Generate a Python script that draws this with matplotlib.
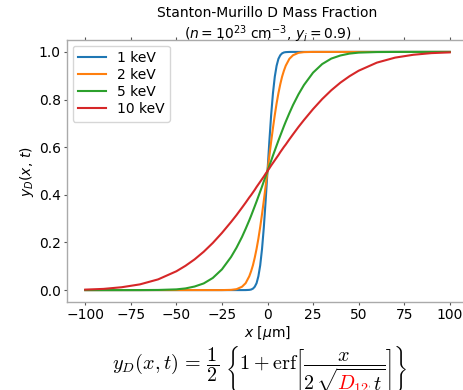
import matplotlib
matplotlib.use("Agg")
import matplotlib.pyplot as plt
import numpy as np
from matplotlib.mathtext import MathTextParser
from matplotlib.font_manager import FontProperties
from matplotlib.transforms import offset_copy

# x positions [um] shared by all curves
x_um = [-100, -90, -80, -70, -60, -50, -45, -40, -35, -30, -25, -20, -17, -14, -12,
        -10, -9, -8, -7, -6, -5, -4, -3, -2, -1, 0,
        1, 2, 3, 4, 5, 6, 7, 8, 9, 10, 12, 14, 17, 20, 25,
        30, 35, 40, 45, 50, 60, 70, 80, 90, 100]

# D mass fraction
y_1kev = [0, 0, 0, 0, 0, 0, 0, 0, 0, 0, 0, 0, 0, 0, 0.0001,
          0.0009, 0.0023, 0.006, 0.014, 0.029, 0.058, 0.104, 0.173, 0.265, 0.377, 0.5,
          0.623, 0.735, 0.827, 0.896, 0.942, 0.971, 0.986, 0.994, 0.9977, 0.9991, 0.9999, 1, 1, 1, 1,
          1, 1, 1, 1, 1, 1, 1, 1, 1, 1]
y_2kev = [0, 0, 0, 0, 0, 0, 0, 0, 0, 0, 0, 0.0009, 0.0038, 0.014, 0.029,
          0.058, 0.079, 0.104, 0.136, 0.173, 0.216, 0.265, 0.319, 0.377, 0.438, 0.5,
          0.562, 0.623, 0.681, 0.735, 0.784, 0.827, 0.864, 0.896, 0.921, 0.942, 0.971, 0.986, 0.9962, 0.9991, 1,
          1, 1, 1, 1, 1, 1, 1, 1, 1, 1]
y_5kev = [0, 0, 0, 0.0001, 0.0006, 0.003, 0.007, 0.015, 0.028, 0.051, 0.087, 0.139, 0.178, 0.223, 0.257,
          0.293, 0.312, 0.332, 0.352, 0.372, 0.393, 0.414, 0.435, 0.457, 0.478, 0.5,
          0.522, 0.543, 0.565, 0.586, 0.607, 0.628, 0.648, 0.668, 0.688, 0.707, 0.743, 0.777, 0.822, 0.861, 0.913,
          0.949, 0.972, 0.985, 0.993, 0.997, 0.9994, 0.9999, 1, 1, 1]
y_10kev = [0.002, 0.005, 0.012, 0.024, 0.045, 0.079, 0.102, 0.129, 0.161, 0.198, 0.240, 0.286, 0.315, 0.346, 0.367,
           0.389, 0.399, 0.410, 0.421, 0.433, 0.444, 0.455, 0.466, 0.477, 0.489, 0.5,
           0.511, 0.523, 0.534, 0.545, 0.556, 0.567, 0.579, 0.590, 0.601, 0.611, 0.633, 0.654, 0.685, 0.714, 0.760,
           0.802, 0.839, 0.871, 0.898, 0.921, 0.955, 0.976, 0.988, 0.995, 0.998]

labels = ["1 keV", "2 keV", "5 keV", "10 keV"]
colors = ["#1f77b4", "#ff7f0e", "#2ca02c", "#d62728"]

fig = plt.figure(figsize=(4.63, 3.90), dpi=100)
ax = fig.add_axes([67 / 463, 88 / 390, 401 / 463, 262 / 390])

for ys, lab, c in zip([y_1kev, y_2kev, y_5kev, y_10kev], labels, colors):
    ax.plot(x_um, ys, color=c, lw=1.5, label=lab)

ax.set_xlim(-110, 110)
ax.set_ylim(-0.05, 1.05)
ax.set_xticks([-100, -75, -50, -25, 0, 25, 50, 75, 100])
ax.set_yticks([0.0, 0.2, 0.4, 0.6, 0.8, 1.0])
for s in ax.spines.values():
    s.set_color("#aaaaaa")
    s.set_linewidth(1.0)
ax.tick_params(top=True, right=True, length=2.5, width=0.8, pad=2,
               color="#555555", labelsize=10)

ax.set_xlabel("$x$ [$\\mu$m]", fontsize=10, labelpad=1)
ax.set_ylabel("$y_D(x,\\, t)$", fontsize=10, labelpad=2)
ax.set_title("Stanton-Murillo D Mass Fraction\n($n = 10^{23}$ cm$^{-3}$, $y_i = 0.9$)",
             fontsize=10, pad=1)
ax.legend(loc="upper left", fontsize=10, labelspacing=0.22, borderaxespad=0.4)

# formula under the plot, with D_12 highlighted in red
fs = 14.5
formula = (r"$y_D(x,t) \,=\, \dfrac{1}{2}\ \left\{1 + \mathrm{erf}"
           r"\left[\dfrac{x}{2\,\sqrt{D_{12}\,t}}\right]\right\}$")
fp = FontProperties(size=fs, math_fontfamily="cm")
res = MathTextParser("path").parse(formula, dpi=720, prop=fp)
dglyph = [g for g in res.glyphs if chr(g[2]) == "D"][-1]
dx_pt, dy_pt = dglyph[3] / 10, dglyph[4] / 10

x0 = 112 / 463
yb = 20 / 390
fig.text(x0, yb, formula, fontsize=fs, math_fontfamily="cm", ha="left", va="baseline")
tr = offset_copy(fig.transFigure, fig=fig, x=dx_pt, y=dy_pt, units="points")
fig.text(x0, yb, r"$D_{12}$", fontsize=fs, math_fontfamily="cm", color="red",
         ha="left", va="baseline", transform=tr,
         bbox=dict(facecolor="white", edgecolor="none", pad=0))

fig.savefig("out.png", dpi=100)
